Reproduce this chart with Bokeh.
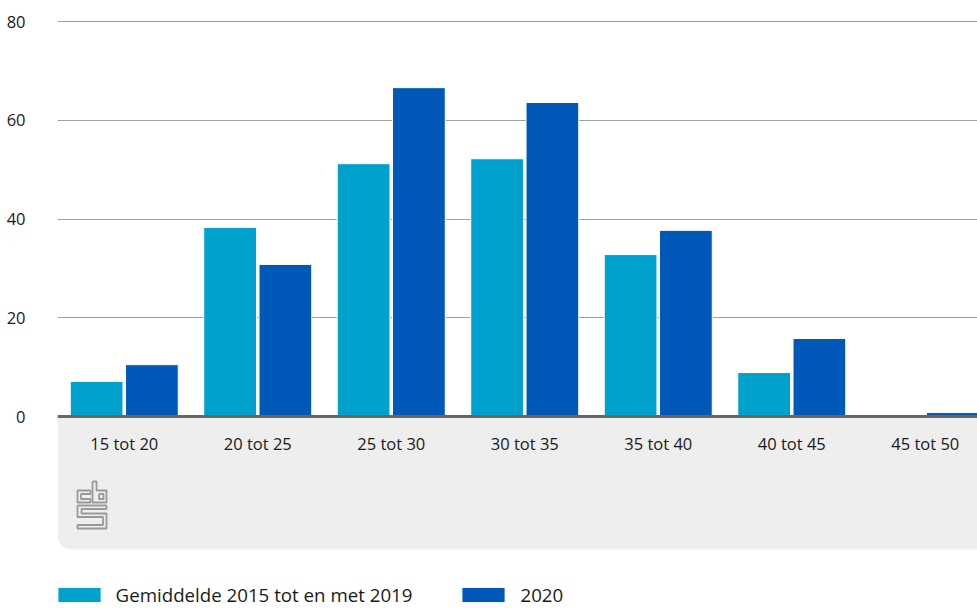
from bokeh.plotting import figure
from bokeh.models import (ColumnDataSource, Range1d, FixedTicker, Span, BoxAnnotation,
                          Legend, LegendItem)
from bokeh.core.properties import value
from bokeh.embed import file_html
from bokeh.resources import INLINE

# ---- data ----
categories = ["15 tot 20", "20 tot 25", "25 tot 30", "30 tot 35", "35 tot 40", "40 tot 45", "45 tot 50"]
gemiddelde = [7.1, 38.3, 51.2, 52.2, 32.8, 8.9, 0.0]
jaar2020 = [10.5, 30.8, 66.6, 63.6, 37.7, 15.8, 0.8]
y_ticks = [0, 20, 40, 60, 80]
series_labels = ["Gemiddelde 2015 tot en met 2019", "2020"]
colors = ["#00a1cd", "#0058b8"]

FONT = "Open Sans"

# ---- layout constants (pixels) ----
W, H = 977, 608
frame_left_ref = 57          # frame left in page px
zero_ref = 416               # y=0 in page px
cat_px = 133.5
unit_px = 4.9375
frame_top_ref = 14
left_border = frame_left_ref
top_border = frame_top_ref
frame_w = W - left_border
frame_h = H - top_border
x_end = frame_w / cat_px
y_end = (zero_ref - frame_top_ref) / unit_px
y_start = y_end - frame_h / unit_px

p = figure(width=W, height=H, output_backend="svg", toolbar_location=None,
           x_range=Range1d(0, x_end), y_range=Range1d(y_start, y_end),
           min_border_left=left_border, min_border_right=0,
           min_border_top=top_border, min_border_bottom=0)
p.outline_line_color = None
p.background_fill_color = "white"
p.border_fill_color = "white"

# grey band under the baseline
band_bottom = -(549 - zero_ref) / unit_px
p.add_layout(BoxAnnotation(top=0, bottom=band_bottom, fill_color="#eeeeee", fill_alpha=1,
                           line_color=None, border_radius=(0, 0, 0, 14), level="underlay"))

xc = [i + 0.5 for i in range(len(categories))]
src = ColumnDataSource(dict(
    x1=[x - 0.207 for x in xc], x2=[x + 0.207 for x in xc],
    g=gemiddelde, j=jaar2020, cat=categories, xc=xc,
    ly=[-(443 - zero_ref) / unit_px] * len(categories)))

r1 = p.vbar(x="x1", top="g", width=0.395, bottom=0, source=src,
            fill_color=colors[0], line_color="white", line_width=1)
r2 = p.vbar(x="x2", top="j", width=0.395, bottom=0, source=src,
            fill_color=colors[1], line_color="white", line_width=1)

# baseline
p.add_layout(Span(location=0, dimension="width", line_color="#666666", line_width=3))

# category labels
p.text(x="xc", y="ly", text="cat", source=src, text_align="center", text_baseline="middle",
       text_font=value(FONT), text_font_size="16.5px", text_color="#1a1a1a")

# CBS logo (decoration, drawn in page-pixel offsets)
def px(xp):
    return (xp - frame_left_ref) / cat_px
def py(yp):
    return (zero_ref - yp) / unit_px
logo_paths = [
    [(90, 490), (77, 490), (77, 502), (90, 502), (90, 498.5), (80.5, 498.5), (80.5, 493.5),
     (90, 493.5), (90, 490)],
    [(92, 481), (96, 481), (96, 490), (106, 490), (106, 502), (92, 502), (92, 481)],
    [(98.5, 493.5), (103, 493.5), (103, 498.5), (98.5, 498.5), (98.5, 493.5)],
    [(77, 505), (106, 505), (106, 508.5), (81, 508.5), (81, 513), (106, 513), (106, 528),
     (77, 528), (77, 524.5), (102.5, 524.5), (102.5, 516.5), (77, 516.5), (77, 505)],
]
p.multi_line(xs=[[px(a) for a, b in path] for path in logo_paths],
             ys=[[py(b) for a, b in path] for path in logo_paths],
             line_color="#999999", line_width=1.8)

# axes
p.xaxis.visible = False
p.yaxis.ticker = FixedTicker(ticks=y_ticks)
p.yaxis.axis_line_color = None
p.yaxis.major_tick_line_color = None
p.yaxis.minor_tick_line_color = None
p.yaxis.major_label_standoff = 26
p.yaxis.major_label_text_font = FONT
p.yaxis.major_label_text_font_size = "16.5px"
p.yaxis.major_label_text_color = "#1a1a1a"
p.xgrid.visible = False
p.ygrid.ticker = FixedTicker(ticks=y_ticks[1:])
p.ygrid.grid_line_color = "#a0a0a0"
p.ygrid.grid_line_width = 1.2

legend = Legend(items=[LegendItem(label=series_labels[0], renderers=[r1]),
                       LegendItem(label=series_labels[1], renderers=[r2])],
                location=(-5.4, 1), orientation="horizontal",
                glyph_width=54, glyph_height=19, label_standoff=10, spacing=44,
                padding=0, margin=0, border_line_color=None, background_fill_alpha=0,
                label_text_font=FONT, label_text_font_size="18.7px", label_text_color="#1a1a1a",
                label_height=19)
p.add_layout(legend)

open("out.html", "w").write(file_html(p, INLINE))
